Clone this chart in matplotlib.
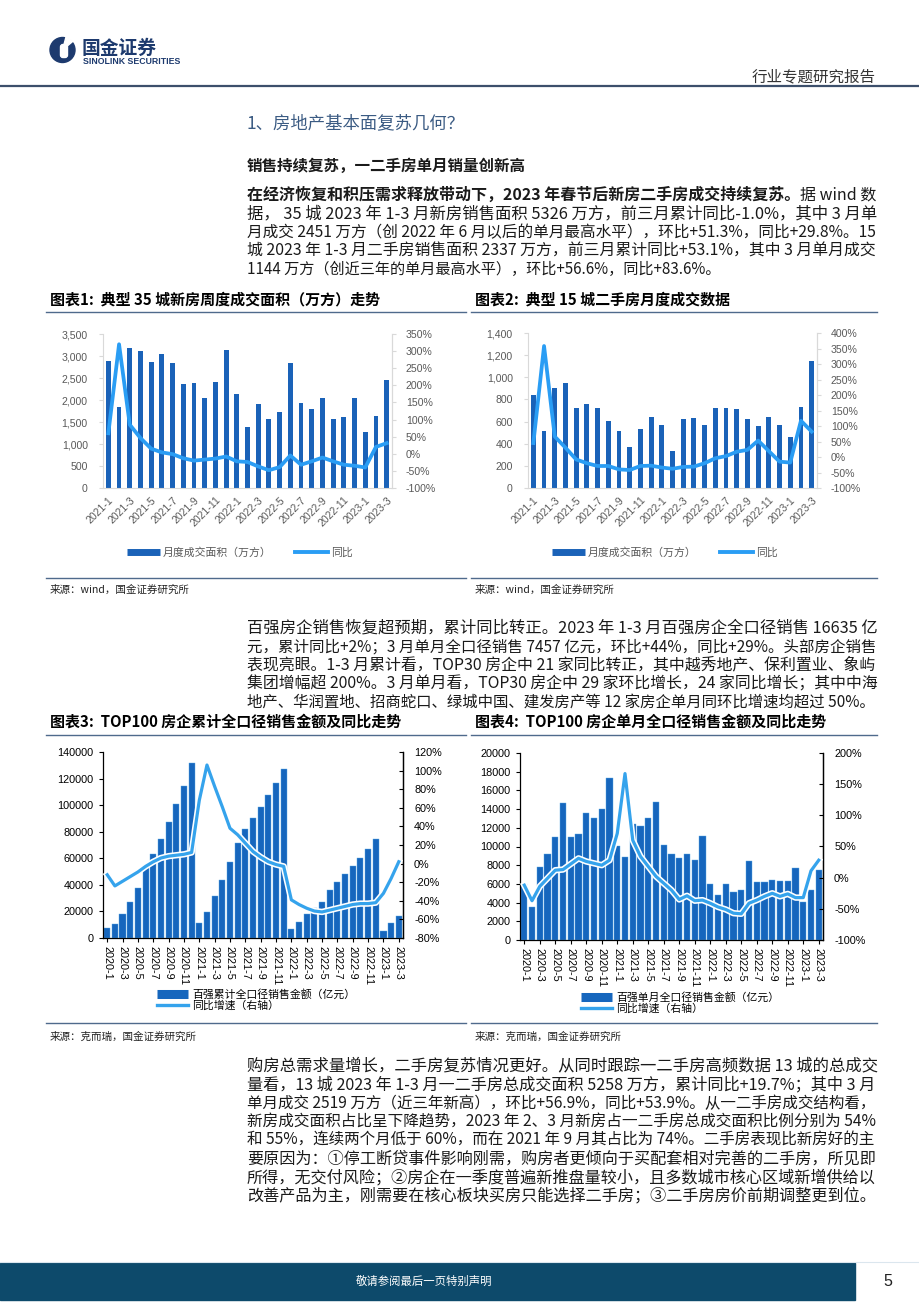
import matplotlib
matplotlib.use("Agg")
import matplotlib.pyplot as plt
import numpy as np
from matplotlib.lines import Line2D
from matplotlib.patches import Rectangle, Circle, FancyBboxPatch, Wedge
import matplotlib.patheffects as pe

plt.rcParams['font.family'] = ['Noto Sans CJK SC', 'DejaVu Sans']
plt.rcParams['axes.unicode_minus'] = False

W, H = 920, 1302

# ---------------- data ----------------
months_21 = ["%d-%d" % (y, m) for y in (2021, 2022) for m in range(1, 13)] + ["2023-1", "2023-2", "2023-3"]
months_20 = ["%d-%d" % (y, m) for y in (2020, 2021, 2022) for m in range(1, 13)] + ["2023-1", "2023-2", "2023-3"]

# chart 1: 35 cities new homes (10k m2) and yoy %
new35_area = [2895, 1852, 3190, 3114, 2872, 3039, 2850, 2358, 2381, 2056, 2404, 3137,
              2139, 1376, 1905, 1565, 1716, 2850, 1927, 1799, 2056, 1565, 1610, 2056,
              1270, 1640, 2451]
new35_yoy = [60, 320, 85, 46, 15, 4, -1, -13, -20, -17, -14, -8,
             -22, -24, -37, -48, -39, -5, -32, -22, -11, -22, -32, -35,
             -40, 20, 31]

# chart 2: 15 cities second-hand (10k m2) and yoy %
sec15_area = [840, 515, 900, 946, 726, 756, 726, 608, 515, 370, 536, 641,
              566, 337, 620, 630, 566, 723, 723, 714, 620, 557, 641, 566,
              464, 735, 1144]
sec15_yoy = [45, 358, 66, 30, -8, -20, -29, -29, -40, -42, -29, -28,
             -34, -38, -32, -31, -20, -4, 3, 17, 23, 53, 19, -15,
             -18, 117, 82]

# chart 3: TOP100 cumulative sales (100m yuan) and yoy %
top100_cum = [7300, 10300, 17800, 27300, 37900, 52900, 63000, 74500, 87600, 100600, 114700, 132000,
              11000, 19600, 31900, 43900, 57000, 71800, 81800, 90000, 98800, 107600, 116400, 127400,
              7000, 11800, 17800, 22300, 27300, 35900, 42100, 48400, 54400, 60500, 66700, 74300,
              5500, 11000, 16635]
top100_cum_yoy = [-12, -24, -19, -14, -9, -3, 2, 6, 8, 9, 10, 12,
                  68, 106, 83, 61, 38, 31, 22, 13, 7, 2, -1, -3,
                  -39, -44, -48, -51, -52, -50, -48, -46, -44, -43, -43, -42,
                  -32, -16, 2]

# chart 4: TOP100 monthly sales (100m yuan) and yoy %
top100_mon = [5990, 3490, 7840, 9200, 11050, 14690, 11050, 11300, 13550, 13010, 14010, 17360,
              10050, 8840, 12370, 12190, 13010, 14760, 10160, 9200, 8730, 9200, 8560, 11160,
              5950, 4850, 5950, 5100, 5350, 8450, 6200, 6200, 6450, 6350, 6350, 7740,
              4100, 5350, 7457]
top100_mon_yoy = [-12, -37, -14, -1, 12, 13, 22, 31, 26, 23, 20, 28,
                  71, 167, 60, 34, 18, 2, -9, -20, -35, -29, -37, -36,
                  -41, -47, -51, -57, -58, -41, -36, -30, -25, -30, -26, -32,
                  -32, 11, 28]

BAR_A = '#1a62b8'
LINE_A = '#2a9df4'
BAR_B = '#1666bd'
LINE_B = '#35a3ec'
GRID_GRAY = '#d9d9d9'
TICK_GRAY = '#595959'
NAVY = '#1d3a6e'
RULE = '#4f6a8c'

fig = plt.figure(figsize=(W / 100, H / 100), dpi=100)
fig.patch.set_facecolor('white')


def fx(x):
    return x / W


def fy(y):
    return 1 - y / H


def axes_px(x0, y0, x1, y1):
    return fig.add_axes([x0 / W, 1 - y1 / H, (x1 - x0) / W, (y1 - y0) / H])


def hline(x0, x1, y, color=RULE, lw=1.0):
    fig.add_artist(Line2D([fx(x0), fx(x1)], [fy(y), fy(y)], color=color, lw=lw))


renderer = fig.canvas.get_renderer()


def put_line(segments, x, y, size, target=None, color='#1a1a1a'):
    texts = []
    for s, weight in segments:
        t = fig.text(fx(x), fy(y), s, fontsize=size, fontweight=weight,
                     color=color, ha='left', va='center')
        texts.append(t)

    def layout():
        cx = x
        for t in texts:
            t.set_x(fx(cx))
            cx += t.get_window_extent(renderer).width
        return cx - x

    total = layout()
    if target is not None:
        k = min(max(target / total, 0.9), 1.1)
        for t in texts:
            t.set_fontsize(size * k)
        layout()


# ---------------- header ----------------
logo = axes_px(48, 36, 78, 64)
logo.set_xlim(0, 30)
logo.set_ylim(0, 28)
logo.set_aspect('equal')
logo.axis('off')
logo.add_patch(Circle((14.5, 14), 12.5, color=NAVY))
logo.add_patch(FancyBboxPatch((12.5, 6.5), 7, 13, boxstyle="round,pad=0,rounding_size=2.5",
                              color='white'))
logo.add_patch(Wedge((14.5, 14), 13.5, 40, 75, color='white'))
fig.text(fx(82), fy(48), "国金证券", fontsize=13.5, fontweight='bold', color=NAVY, va='center')
fig.text(fx(83), fy(62), "SINOLINK SECURITIES", fontsize=6.3, fontweight='bold',
         color=NAVY, va='center', family=['Liberation Sans'])
fig.text(fx(876), fy(77), "行业专题研究报告", fontsize=11.2, color='#333333', ha='right', va='center')
hline(0, W, 86, color='#3c4f6b', lw=1.6)

fig.text(fx(247), fy(123), "1、房地产基本面复苏几何？", fontsize=12.5, fontweight='light',
         color='#3b5b83', va='center')
put_line([("销售持续复苏，一二手房单月销量创新高", 'bold')], 247, 166, 11.2)

BODY = 10.9
LX, RX, DY = 247, 876, 18.6
top_lines = [
    [("在经济恢复和积压需求释放带动下，2023 年春节后新房二手房成交持续复苏。", 'bold'), ("据 wind 数", 'normal')],
    [("据， 35 城 2023 年 1-3 月新房销售面积 5326 万方，前三月累计同比-1.0%，其中 3 月单", 'normal')],
    [("月成交 2451 万方（创 2022 年 6 月以后的单月最高水平），环比+51.3%，同比+29.8%。15", 'normal')],
    [("城 2023 年 1-3 月二手房销售面积 2337 万方，前三月累计同比+53.1%，其中 3 月单月成交", 'normal')],
    [("1144 万方（创近三年的单月最高水平），环比+56.6%，同比+83.6%。", 'normal')],
]
for i, segs in enumerate(top_lines):
    put_line(segs, LX, 195 + i * DY, BODY, target=(RX - LX) if i < len(top_lines) - 1 else None)

mid_lines = [
    "百强房企销售恢复超预期，累计同比转正。2023 年 1-3 月百强房企全口径销售 16635 亿",
    "元，累计同比+2%；3 月单月全口径销售 7457 亿元，环比+44%，同比+29%。头部房企销售",
    "表现亮眼。1-3 月累计看，TOP30 房企中 21 家同比转正，其中越秀地产、保利置业、象屿",
    "集团增幅超 200%。3 月单月看，TOP30 房企中 29 家环比增长，24 家同比增长；其中中海",
    "地产、华润置地、招商蛇口、绿城中国、建发房产等 12 家房企单月同环比增速均超过 50%。",
]
for i, s in enumerate(mid_lines):
    put_line([(s, 'normal')], LX, 628 + i * DY, BODY, target=RX - LX)

bot_lines = [
    "购房总需求量增长，二手房复苏情况更好。从同时跟踪一二手房高频数据 13 城的总成交",
    "量看，13 城 2023 年 1-3 月一二手房总成交面积 5258 万方，累计同比+19.7%；其中 3 月",
    "单月成交 2519 万方（近三年新高），环比+56.9%，同比+53.9%。从一二手房成交结构看，",
    "新房成交面积占比呈下降趋势，2023 年 2、3 月新房占一二手房总成交面积比例分别为 54%",
    "和 55%，连续两个月低于 60%，而在 2021 年 9 月其占比为 74%。二手房表现比新房好的主",
    "要原因为：①停工断贷事件影响刚需，购房者更倾向于买配套相对完善的二手房，所见即",
    "所得，无交付风险；②房企在一季度普遍新推盘量较小，且多数城市核心区域新增供给以",
    "改善产品为主，刚需要在核心板块买房只能选择二手房；③二手房房价前期调整更到位。",
]
for i, s in enumerate(bot_lines):
    put_line([(s, 'normal')], LX, 1066 + i * DY, BODY, target=RX - LX)

# ---------------- chart titles / rules / sources ----------------
fig.text(fx(50), fy(300), "图表1:  典型 35 城新房周度成交面积（万方）走势", fontsize=10.8,
         fontweight='bold', va='center')
fig.text(fx(475), fy(300), "图表2:  典型 15 城二手房月度成交数据", fontsize=10.8,
         fontweight='bold', va='center')
hline(46, 466, 312)
hline(471, 877, 312)
hline(46, 466, 578)
hline(471, 877, 578)
fig.text(fx(50), fy(590), "来源：wind，国金证券研究所", fontsize=7.6, color='#222222', va='center')
fig.text(fx(475), fy(590), "来源：wind，国金证券研究所", fontsize=7.6, color='#222222', va='center')

fig.text(fx(50), fy(722), "图表3:  TOP100 房企累计全口径销售金额及同比走势", fontsize=10.8,
         fontweight='bold', va='center')
fig.text(fx(475), fy(722), "图表4:  TOP100 房企单月全口径销售金额及同比走势", fontsize=10.8,
         fontweight='bold', va='center')
hline(46, 466, 735)
hline(471, 877, 735)
hline(46, 466, 1023)
hline(471, 877, 1023)
fig.text(fx(50), fy(1037), "来源：克而瑞，国金证券研究所", fontsize=7.6, color='#222222', va='center')
fig.text(fx(475), fy(1037), "来源：克而瑞，国金证券研究所", fontsize=7.6, color='#222222', va='center')


# ---------------- wind style charts (1, 2) ----------------
def wind_chart(rect, labels, bars, yoy, ymax, ystep, rlo, rhi, rstep, bar_name, leg_center):
    ax = axes_px(*rect)
    x = np.arange(len(bars))
    ax.bar(x, bars, width=0.45, color=BAR_A, zorder=2)
    ax.set_xlim(-0.5, len(bars) - 0.5)
    ax.set_ylim(0, ymax)
    yt = np.arange(0, ymax + 1, ystep)
    ax.set_yticks(yt)
    ax.set_yticklabels(["{:,}".format(int(v)) for v in yt], family=['Liberation Sans'])
    ax.set_xticks(x[::2])
    ax.set_xticklabels(labels[::2], rotation=45, ha='right', va='top',
                       rotation_mode='anchor', family=['Liberation Sans'])
    ax.tick_params(axis='x', length=0, pad=5, labelsize=7.6, labelcolor=TICK_GRAY)
    ax.tick_params(axis='y', length=3, color=GRID_GRAY, pad=8, labelsize=7.6, labelcolor=TICK_GRAY)
    for s in ('left', 'bottom', 'right'):
        ax.spines[s].set_color(GRID_GRAY)
    ax.spines['top'].set_visible(False)

    ax2 = ax.twinx()
    ax2.plot(x, yoy, color=LINE_A, lw=2.7, zorder=3, solid_joinstyle='round')
    ax2.set_ylim(rlo, rhi)
    rt = np.arange(rlo, rhi + 1, rstep)
    ax2.set_yticks(rt)
    ax2.set_yticklabels(["%d%%" % v for v in rt], family=['Liberation Sans'])
    ax2.tick_params(axis='y', length=3, color=GRID_GRAY, pad=7, labelsize=7.6, labelcolor=TICK_GRAY)
    for s in ('left', 'bottom', 'top'):
        ax2.spines[s].set_visible(False)
    ax2.spines['right'].set_color(GRID_GRAY)

    handles = [Line2D([], [], color=BAR_A, lw=5, solid_capstyle='butt'),
               Line2D([], [], color=LINE_A, lw=2.8)]
    fig.legend(handles, [bar_name, "同比"], loc='center', bbox_to_anchor=(fx(leg_center[0]), fy(leg_center[1])),
               ncol=2, frameon=False, fontsize=7.8, handlelength=3.0, handletextpad=0.3,
               columnspacing=2.2, borderpad=0, labelcolor=TICK_GRAY)


wind_chart((103, 334, 392, 488), months_21, new35_area, new35_yoy, 3500, 500, -100, 350, 50,
           "月度成交面积（万方）", (240, 553))
wind_chart((528, 333, 817, 488), months_21, sec15_area, sec15_yoy, 1400, 200, -100, 400, 50,
           "月度成交面积（万方）", (665, 553))


# ---------------- CRIC style charts (3, 4) ----------------
halo = [pe.Stroke(linewidth=4.6, foreground='white'), pe.Normal()]


def cric_chart(rect, labels, bars, yoy, ymax, ystep, rlo, rhi, rstep, bar_name, leg_xy):
    ax = axes_px(*rect)
    x = np.arange(len(bars))
    ax.bar(x, bars, width=0.8, color=BAR_B, edgecolor='#5aa9e6', linewidth=0.3, zorder=2)
    ax.set_xlim(-0.55, len(bars) - 0.45)
    ax.set_ylim(0, ymax)
    yt = np.arange(0, ymax + 1, ystep)
    ax.set_yticks(yt)
    ax.set_yticklabels(["%d" % v for v in yt], family=['Liberation Sans'])
    ax.set_xticks(x[::2])
    ax.set_xticklabels(labels[::2], rotation=270, ha='center', va='top', family=['Liberation Sans'])
    ax.tick_params(axis='x', length=3, pad=3, labelsize=7.8, color='black')
    ax.tick_params(axis='y', length=3, pad=4, labelsize=7.8, color='black', direction='out')
    for s in ('left', 'bottom', 'right'):
        ax.spines[s].set_color('black')
        ax.spines[s].set_linewidth(0.9)
    ax.spines['top'].set_visible(False)

    ax2 = ax.twinx()
    ax2.plot(x, yoy, color=LINE_B, lw=2.3, zorder=3, path_effects=halo, solid_joinstyle='round')
    ax2.set_ylim(rlo, rhi)
    rt = np.arange(rlo, rhi + 1, rstep)
    ax2.set_yticks(rt)
    ax2.set_yticklabels(["%d%%" % v for v in rt], family=['Liberation Sans'])
    ax2.tick_params(axis='y', length=3, pad=8, labelsize=7.8, color='black', direction='in')
    for s in ('left', 'bottom', 'top'):
        ax2.spines[s].set_visible(False)
    ax2.spines['right'].set_color('black')
    ax2.spines['right'].set_linewidth(0.9)

    handles = [Line2D([], [], color=BAR_B, lw=6.5, solid_capstyle='butt'),
               Line2D([], [], color=LINE_B, lw=2.4)]
    fig.legend(handles, [bar_name, "同比增速（右轴）"], loc='upper left',
               bbox_to_anchor=(fx(leg_xy[0]), fy(leg_xy[1])), ncol=1, frameon=False,
               fontsize=7.8, handlelength=2.9, handletextpad=0.35, labelspacing=0.05,
               borderpad=0, borderaxespad=0)


cric_chart((103, 752, 403, 938), months_20, top100_cum, top100_cum_yoy, 140000, 20000, -80, 120, 20,
           "百强累计全口径销售金额（亿元）", (157, 989))
cric_chart((520, 753, 823, 940), months_20, top100_mon, top100_mon_yoy, 20000, 2000, -100, 200, 50,
           "百强单月全口径销售金额（亿元）", (581, 992))

# ---------------- footer ----------------
hline(0, W, 1262, color='#dbe6ee', lw=0.8)
fig.add_artist(Rectangle((0, fy(1300)), fx(855), fy(1263) - fy(1300), transform=fig.transFigure,
                         color='#0d4a6b'))
fig.text(fx(424), fy(1281), "敬请参阅最后一页特别声明", fontsize=8.2, color='white', ha='center', va='center')
fig.text(fx(888), fy(1281), "5", fontsize=11.5, color='#222222', ha='center', va='center',
         family=['Liberation Sans'])

fig.savefig("out.png", dpi=100, facecolor='white')
